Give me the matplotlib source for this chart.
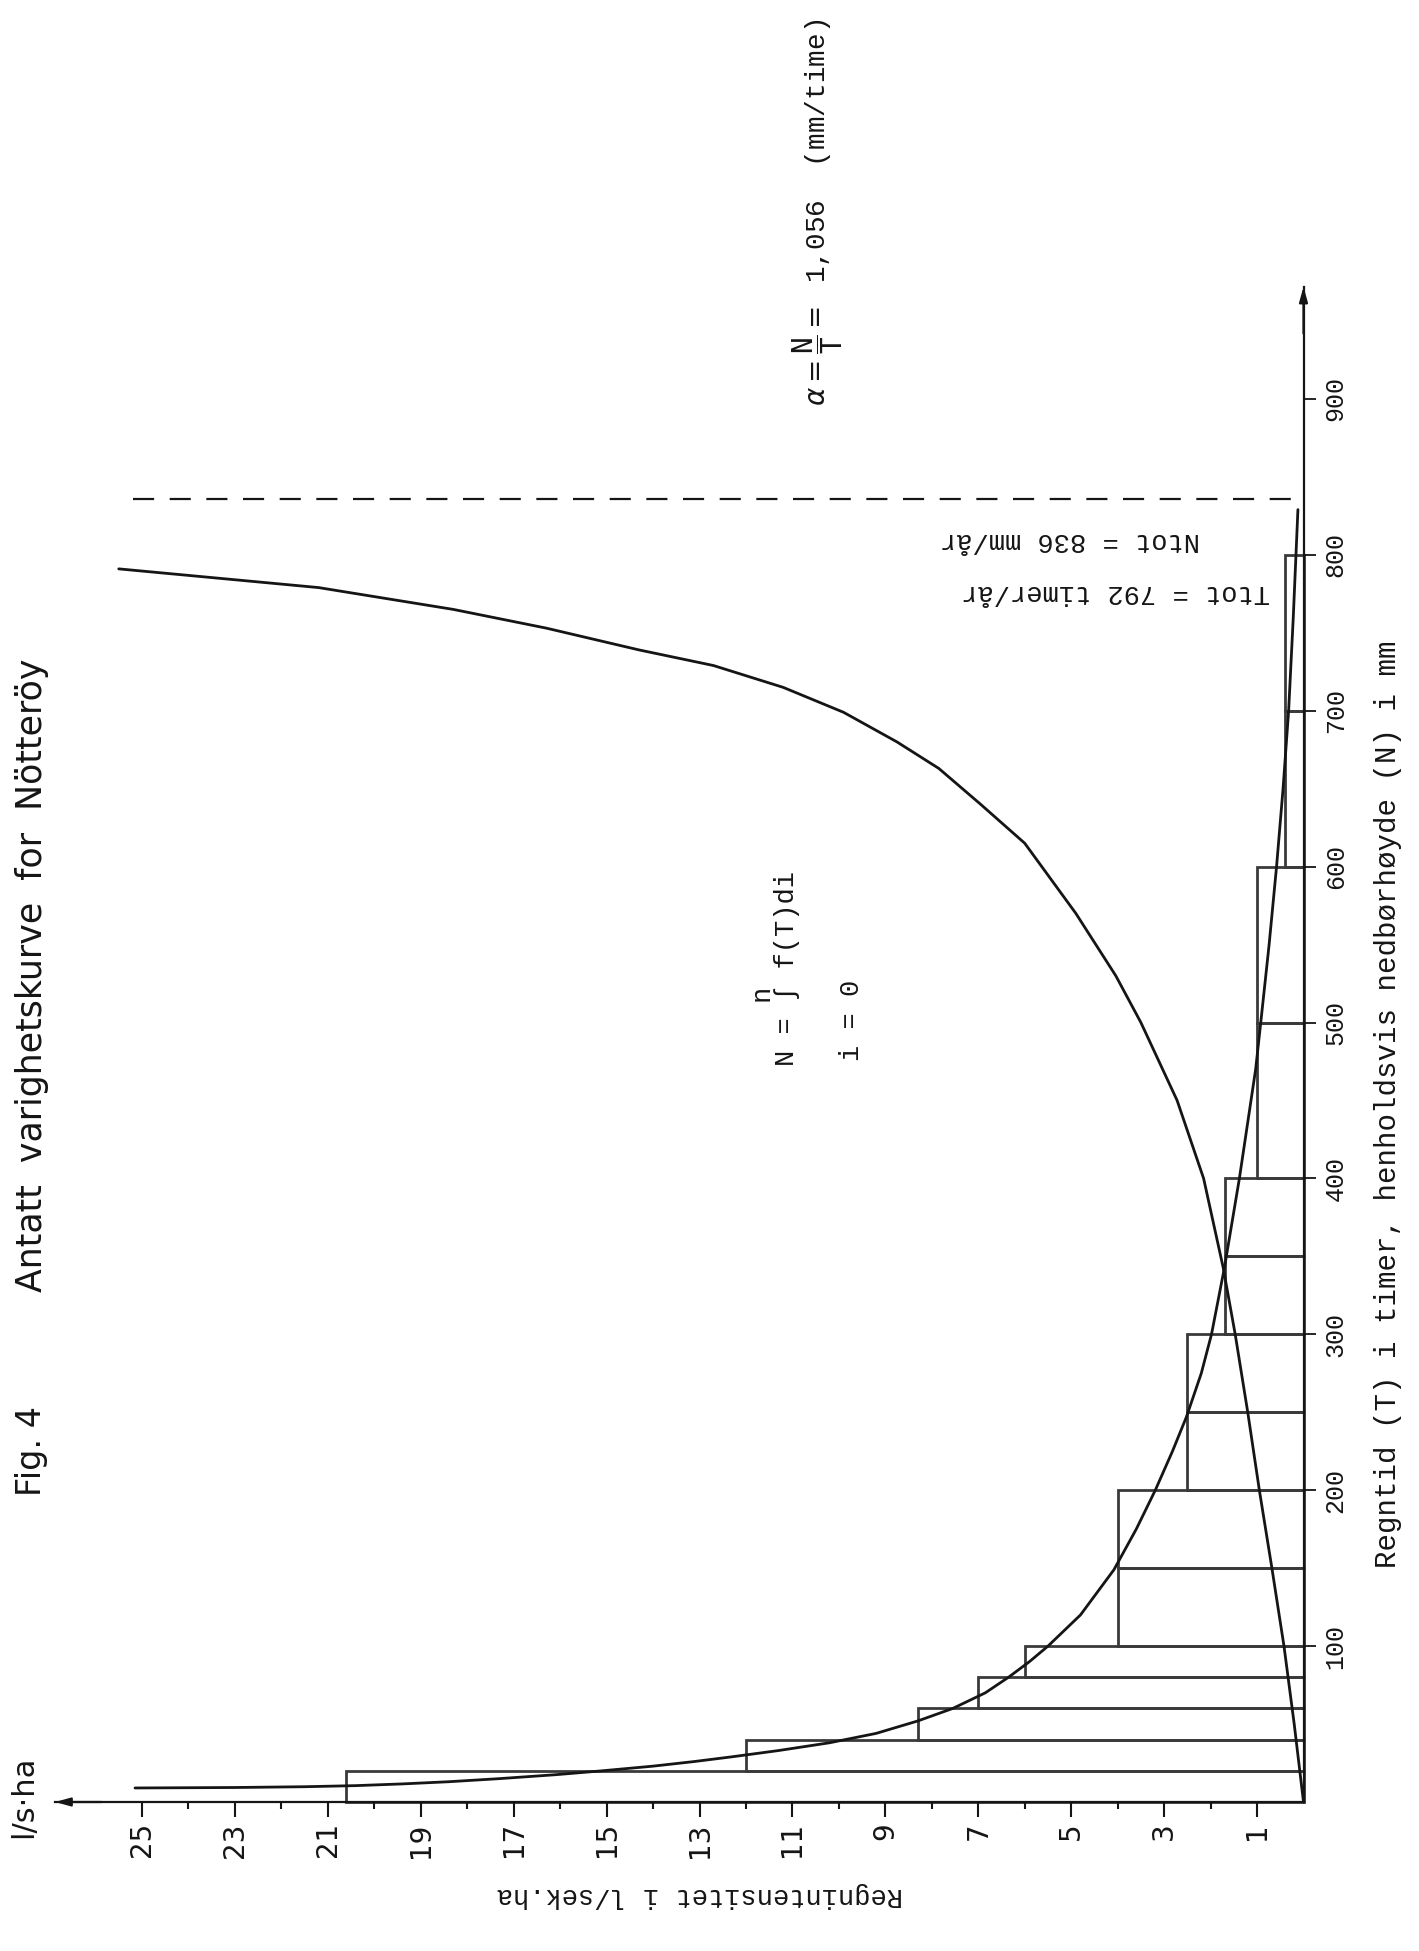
import matplotlib
matplotlib.use("Agg")
import matplotlib.pyplot as plt
import numpy as np

W, H, DPI = 1419, 1951, 100

# ---------------- data ----------------
bar_edges = [0, 20, 40, 60, 80, 100, 150, 200, 250, 300, 350, 400, 500, 600, 700, 800]
bar_intensity = [20.6, 12.0, 8.3, 7.0, 6.0, 4.0, 4.0, 2.5, 2.5, 1.7, 1.7, 1.0, 1.0, 0.4, 0.4]

# intensity-duration curve  (intensity i exceeded during T hours)
curve_a_T = [9.0, 9.3, 9.8, 10.5, 11.6, 13, 15, 17.5, 20, 23, 26, 29, 33, 38, 44, 52, 60, 70,
             80, 90, 100, 120, 149, 175, 200, 225, 247, 275, 300, 343, 400, 470, 500, 550,
             600, 650, 700, 760, 829]
curve_a_i = [25.15, 23.0, 21.5, 20.4, 19.4, 18.4, 17.3, 16.1, 15.1, 14.0, 13.1, 12.3, 11.3, 10.2,
             9.2, 8.3, 7.55, 6.85, 6.35, 5.9, 5.5, 4.8, 4.08, 3.6, 3.19, 2.82, 2.52, 2.2, 1.98,
             1.7, 1.38, 1.03, 0.92, 0.74, 0.58, 0.44, 0.32, 0.22, 0.12]

# cumulative curve
curve_b_T = [0, 50, 100, 150, 200, 250, 300, 343, 400, 450, 500, 530, 570, 615, 640, 663,
             680, 699, 715, 729, 739, 753, 765, 779, 791]
curve_b_i = [0.0, 0.2, 0.42, 0.68, 0.95, 1.2, 1.47, 1.73, 2.15, 2.72, 3.5, 4.04, 4.9, 6.0, 6.95,
             7.85, 8.75, 9.9, 11.2, 12.7, 14.3, 16.3, 18.3, 21.2, 25.5]

N_tot = 836
ntot_line_i = [25.2, 0.0]

i_major = [1, 3, 5, 7, 9, 11, 13, 15, 17, 19, 21, 23, 25]
i_minor = [2, 4, 6, 8, 10, 12, 14, 16, 18, 20, 22, 24]
T_ticks = [100, 200, 300, 400, 500, 600, 700, 800, 900]

I_MAX, T_MAX = 26.87, 972

SANS = ["DejaVu Sans"]
MONO = ["Liberation Mono", "DejaVu Sans Mono"]
INK = "#151515"
GREY = "#3a3a3a"

plt.rcParams["mathtext.fontset"] = "dejavusans"

fig = plt.figure(figsize=(W / DPI, H / DPI), dpi=DPI)
fig.patch.set_facecolor("white")

def fx(px):
    return px / W

def fy(py):
    return 1 - py / H

x_left, x_right = 55.1, 1303.5
y_top, y_bot = 286.7, 1802.0
ax = fig.add_axes([fx(x_left), fy(y_bot), (x_right - x_left) / W, (y_bot - y_top) / H])
ax.set_xlim(I_MAX, 0)
ax.set_ylim(0, T_MAX)
ax.patch.set_alpha(0)

for s in ["left", "top"]:
    ax.spines[s].set_visible(False)
for s in ["right", "bottom"]:
    ax.spines[s].set_linewidth(1.6)
    ax.spines[s].set_color(INK)

# arrow heads
ax.annotate("", xy=(I_MAX, 0), xytext=(I_MAX - 1.0, 0),
            arrowprops=dict(arrowstyle="-|>,head_length=0.9,head_width=0.25", color=INK, lw=1.6,
                            shrinkA=0, shrinkB=0), annotation_clip=False)
ax.annotate("", xy=(0, T_MAX), xytext=(0, T_MAX - 30),
            arrowprops=dict(arrowstyle="-|>,head_length=0.9,head_width=0.25", color=INK, lw=1.6,
                            shrinkA=0, shrinkB=0), annotation_clip=False)

# ticks
ax.set_xticks(i_major)
ax.set_xticklabels([str(v) for v in i_major], family=SANS, fontsize=20, rotation=90)
ax.set_xticks(i_minor, minor=True)
ax.tick_params(axis="x", which="major", length=10.5, width=1.5, direction="out", pad=4, colors=INK)
ax.tick_params(axis="x", which="minor", length=5, width=1.5, direction="out", colors=INK)

ax.yaxis.tick_right()
ax.set_yticks(T_ticks)
ax.set_yticklabels([str(v) for v in T_ticks], family=MONO, fontsize=18, rotation=90)
ax.tick_params(axis="y", which="major", length=8.5, width=1.3, direction="out", pad=6, colors=INK)
for lab in ax.get_yticklabels():
    lab.set_va("center")

# bars
ax.barh(bar_edges[:-1], bar_intensity, height=np.diff(bar_edges), align="edge",
        fill=False, edgecolor=GREY, linewidth=2.0, clip_on=False)

# curves
ax.plot(curve_a_i, curve_a_T, color=INK, lw=2.0, clip_on=False, solid_capstyle="round",
        solid_joinstyle="round")
ax.plot(curve_b_i, curve_b_T, color=INK, lw=2.0, clip_on=False, solid_capstyle="round",
        solid_joinstyle="round")

# N_tot dashed line
ax.plot(ntot_line_i, [N_tot, N_tot], color=INK, lw=1.6, dashes=(9.5, 7), clip_on=False)

# ---------------- texts ----------------
fig.text(fx(32), fy(1451), "Fig. 4", rotation=90, ha="center", va="center",
         family=SANS, fontsize=24, color=INK)
fig.text(fx(32), fy(975), "Antatt  varighetskurve  for  Nötteröy", rotation=90,
         ha="center", va="center", family=SANS, fontsize=25, color=INK)
fig.text(fx(24), fy(1797), "l/s·ha", rotation=90, ha="center", va="center",
         family=SANS, fontsize=22, color=INK)

fig.text(fx(1388), fy(1104), "Regntid (T) i timer, henholdsvis nedbørhøyde (N) i mm",
         rotation=90, ha="center", va="center", family=MONO, fontsize=21, color=INK)
fig.text(fx(700), fy(1895), "Regnintensitet i l/sek.ha", rotation=180,
         ha="center", va="center", family=MONO, fontsize=19.5, color=INK)

fig.text(fx(1070), fy(540), "Ntot = 836 mm/år", rotation=180, ha="center", va="center",
         family=MONO, fontsize=19.5, color=INK)
fig.text(fx(1116), fy(592), "Ttot = 792 timer/år", rotation=180, ha="center", va="center",
         family=MONO, fontsize=19.5, color=INK)

fig.text(fx(818), fy(212), r"$\alpha = \dfrac{\mathtt{N}}{\mathtt{T}} = $ 1,056  (mm/time)",
         rotation=90, ha="center", va="center", family=MONO, fontsize=20, color=INK)

fig.text(fx(787), fy(968), "N = ∫ f(T)di", rotation=90, ha="center", va="center",
         family=MONO, fontsize=19.5, color=INK)
fig.text(fx(762), fy(993), "n", rotation=90, ha="center", va="center",
         family=MONO, fontsize=19.5, color=INK)
fig.text(fx(852), fy(1020), "i = 0", rotation=90, ha="center", va="center",
         family=MONO, fontsize=19.5, color=INK)

fig.savefig("out.png", dpi=DPI, facecolor="white")
